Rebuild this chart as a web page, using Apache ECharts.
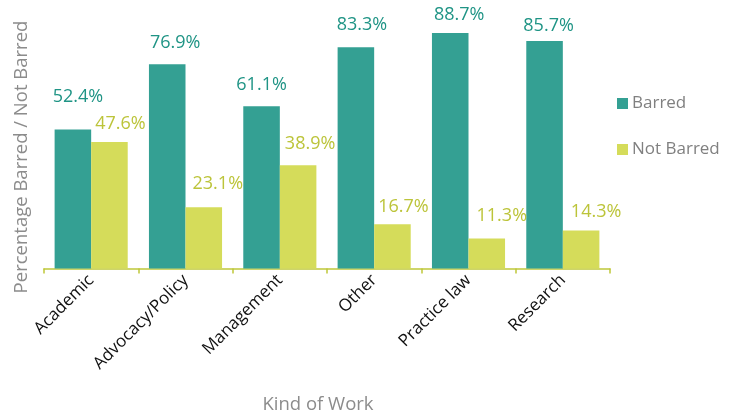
<!DOCTYPE html>
<html>
<head>
<meta charset="utf-8">
<script src="https://cdn.jsdelivr.net/npm/echarts@6/dist/echarts.min.js"></script>
<style>html,body{margin:0;padding:0;background:#fff}#c{width:733px;height:416px}</style>
</head>
<body>
<div id="c"></div>
<script>
const categories = ['Academic', 'Advocacy/Policy', 'Management', 'Other', 'Practice law', 'Research'];
const barred = [52.4, 76.9, 61.1, 83.3, 88.7, 85.7];
const notBarred = [47.6, 23.1, 38.9, 16.7, 11.3, 14.3];
const seriesNames = ['Barred', 'Not Barred'];

// label placement tweaks (style only)
const barredLabelGap = [24, 12, 12, 13, 9, 6];
const barredLabelDx = [5, 8, 0, 6, 9, 4];
const notBarredLabelGap = [9, 14, 12, 8, 14, 10];
const notBarredLabelDx = [11, 14, 12, 11, 15, 15];

const FONT = '"Open Sans", "Noto Sans", sans-serif';
const TEAL = '#34a093';
const YELLOW = '#d5dc5a';

function items(vals, gaps, dxs) {
  return vals.map((v, i) => ({
    value: v,
    label: { distance: gaps[i], offset: [dxs[i], 0] }
  }));
}

const chart = echarts.init(document.getElementById('c'));
chart.setOption({
  animation: false,
  textStyle: { fontFamily: FONT },
  grid: { left: 44, right: 123, top: 3, bottom: 147.5, containLabel: false },
  legend: {
    orient: 'vertical',
    left: 612,
    top: 90,
    itemWidth: 11,
    itemHeight: 11,
    itemGap: 29,
    icon: 'rect',
    textStyle: { fontFamily: FONT, fontSize: 17, color: '#808080', padding: [0, 0, 0, -1] },
    data: seriesNames
  },
  xAxis: {
    type: 'category',
    data: categories,
    boundaryGap: true,
    axisLine: { lineStyle: { color: '#bfc83a', width: 1.5 } },
    axisTick: { show: true, length: 5, lineStyle: { color: '#bfc83a', width: 1.5 } },
    axisLabel: { rotate: 45, interval: 0, color: '#111', fontSize: 17, fontFamily: FONT, margin: 9 }
  },
  yAxis: {
    type: 'value',
    min: 0,
    max: 100,
    show: false
  },
  graphic: [
    {
      type: 'text',
      x: 22, y: 157,
      rotation: Math.PI / 2,
      style: {
        text: 'Percentage Barred / Not Barred',
        fill: '#8c8c8c',
        font: '18.5px ' + FONT,
        align: 'center',
        verticalAlign: 'middle'
      }
    },
    {
      type: 'text',
      x: 318, y: 405,
      style: {
        text: 'Kind of Work',
        fill: '#8c8c8c',
        font: '18.5px ' + FONT,
        align: 'center',
        verticalAlign: 'middle'
      }
    }
  ],
  series: [
    {
      name: seriesNames[0],
      type: 'bar',
      data: items(barred, barredLabelGap, barredLabelDx),
      barGap: '0%',
      barCategoryGap: '22.5%',
      itemStyle: { color: TEAL },
      label: {
        show: true, position: 'top', color: '#1f9485', fontSize: 18, fontFamily: FONT,
        formatter: p => p.value.toFixed(1) + '%'
      }
    },
    {
      name: seriesNames[1],
      type: 'bar',
      data: items(notBarred, notBarredLabelGap, notBarredLabelDx),
      barGap: '0%',
      barCategoryGap: '22.5%',
      itemStyle: { color: YELLOW },
      label: {
        show: true, position: 'top', color: '#bcc43a', fontSize: 18, fontFamily: FONT,
        formatter: p => p.value.toFixed(1) + '%'
      }
    }
  ]
});
</script>
</body>
</html>
